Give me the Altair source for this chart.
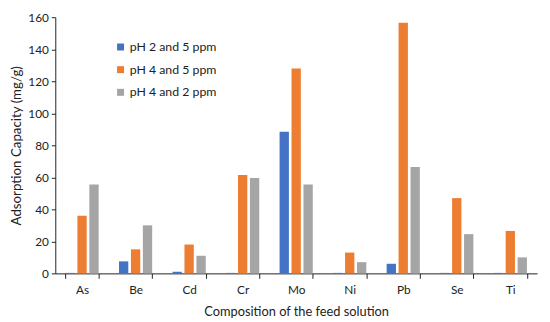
import altair as alt
import pandas as pd

elements = ["As", "Be", "Cd", "Cr", "Mo", "Ni", "Pb", "Se", "Ti"]
series = ["pH 2 and 5 ppm", "pH 4 and 5 ppm", "pH 4 and 2 ppm"]
ph2_5ppm = [0.3, 7.5, 1.0, 0.3, 88.5, 0.3, 6.0, 0.3, 0.3]
ph4_5ppm = [36.0, 15.0, 18.0, 61.5, 128.0, 13.0, 156.5, 47.0, 26.5]
ph4_2ppm = [55.5, 30.0, 11.0, 59.5, 55.5, 7.0, 66.5, 24.5, 10.0]
colors = ["#4472C4", "#ED7D31", "#A5A5A5"]

rows = []
for s, vals in zip(series, [ph2_5ppm, ph4_5ppm, ph4_2ppm]):
    for e, v in zip(elements, vals):
        rows.append({"element": e, "series": s, "value": v})
df = pd.DataFrame(rows)

font = "Lato"
chart = alt.Chart(df).mark_bar().encode(
    x=alt.X("element:N", sort=elements,
            scale=alt.Scale(paddingInner=0.38, paddingOuter=0.19),
            axis=alt.Axis(title="Composition of the feed solution", labelAngle=0,
                          tickBand="extent", labelPadding=6, titlePadding=11,
                          titleFontSize=13,
                          domainColor="#222", tickColor="#222", tickSize=5)),
    xOffset=alt.XOffset("series:N", sort=series, scale=alt.Scale(paddingInner=0.22)),
    y=alt.Y("value:Q", scale=alt.Scale(domain=[0, 160]),
            axis=alt.Axis(title="Adsorption Capacity (mg/g)", values=list(range(0, 161, 20)),
                          grid=False, domainColor="#222", tickColor="#222", tickSize=4,
                          labelPadding=3, titlePadding=4, titleFontSize=13.5)),
    color=alt.Color("series:N", sort=series,
                    scale=alt.Scale(domain=series, range=colors),
                    legend=alt.Legend(title=None, orient="none", legendX=60, legendY=24,
                                      symbolType="square", symbolSize=50, symbolStrokeWidth=0,
                                      rowPadding=10, labelFontSize=12.5, labelFont=font,
                                      labelOffset=3, labelColor="#222")),
).properties(
    width=489, height=260,
    autosize=alt.AutoSizeParams(type="none"),
    padding={"left": 48, "top": 7, "right": 5, "bottom": 47},
).configure_view(stroke=None).configure_axis(
    labelFont=font, titleFont=font, labelFontSize=12,
    labelColor="#222", titleColor="#222", titleFontWeight="normal"
)

chart.save("out.html", embed_options={"renderer": "svg", "actions": False})
